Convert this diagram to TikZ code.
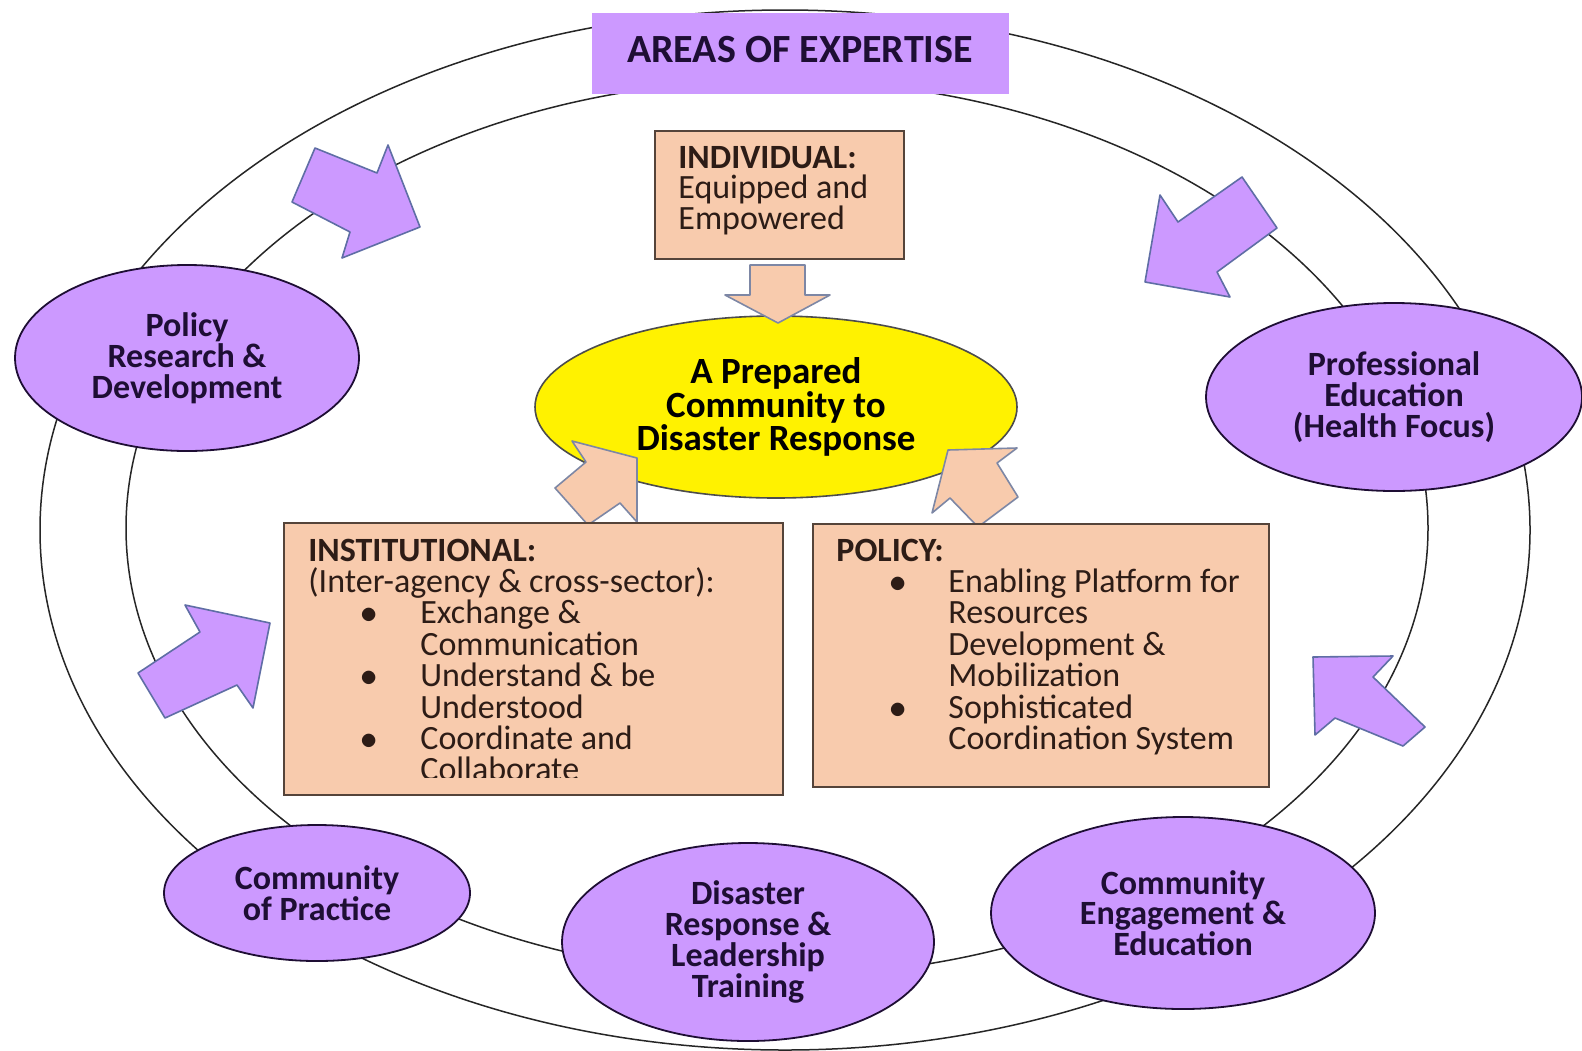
\documentclass[tikz,border=0pt]{standalone}
\usepackage{fontspec}
\setmainfont{Carlito}
\usetikzlibrary{shapes.geometric}
\definecolor{lav}{RGB}{204,153,255}
\definecolor{peach}{RGB}{248,203,173}
\definecolor{arrowedge}{RGB}{95,110,165}
\definecolor{peachedge}{RGB}{125,135,165}
\definecolor{ink}{RGB}{30,14,52}
\definecolor{boxink}{RGB}{45,28,22}
\definecolor{boxedge}{RGB}{85,68,58}
\begin{document}
\begin{tikzpicture}[x=0.5pt,y=-0.5pt,
  ring/.style={draw=black!85, line width=0.75pt},
  area/.style={ellipse, draw=ink, line width=0.9pt, fill=lav, inner sep=0pt,
     text=ink, align=center, font=\bfseries\fontsize{17}{15.4}\selectfont},
  goal/.style={ellipse, draw=black!70, line width=0.8pt, fill=yellow, inner sep=0pt,
     text=black, align=center, font=\bfseries\fontsize{18.5}{15.6}\selectfont},
  titlebox/.style={rectangle, fill=lav, inner sep=0pt},
  titletext/.style={inner sep=0pt, text=ink, font=\bfseries\fontsize{20}{24}\selectfont},
  pbox/.style={rectangle, draw=boxedge, line width=1.1pt, fill=peach, inner sep=0pt},
  btext/.style={anchor=base west, inner sep=0pt, text=boxink, font=\fontsize{17}{20}\selectfont},
  bhead/.style={anchor=base west, inner sep=0pt, text=boxink, font=\bfseries\fontsize{17}{20}\selectfont},
  bdot/.style={anchor=base, inner sep=0pt, text=boxink, font=\fontsize{17}{20}\selectfont},
  parrow/.style={draw=arrowedge, line width=0.8pt, fill=lav, line join=round},
  carrow/.style={draw=peachedge, line width=0.8pt, fill=peach, line join=round}
]
\fill[white] (0,0) rectangle (1582,1050);
\useasboundingbox (0,0) rectangle (1582,1050);

% rings
\draw[ring] (785,530) ellipse [x radius=372.5pt, y radius=260pt];
\draw[ring] (777,528) ellipse [x radius=325.5pt, y radius=224pt];

% title
\node[titlebox, minimum width=208.5pt, minimum height=40.5pt] (title) at (800.5,53.5) {};
\node[titletext] (titlet) at (800,50) {AREAS OF EXPERTISE};

% purple block arrows
\filldraw[parrow] (315,148) -- (377,173) -- (388,145) -- (420,227) -- (342,258) -- (350,232) -- (292,202) -- cycle;
\filldraw[parrow] (1242,177) -- (1277,228) -- (1217,272) -- (1230,297) -- (1145,282) -- (1160,195) -- (1178,222) -- cycle;
\filldraw[parrow] (270,623) -- (185,605) -- (200,632) -- (138,673) -- (165,718) -- (237,685) -- (253,708) -- cycle;
\filldraw[parrow] (1313,657) -- (1393,656) -- (1373,677) -- (1425,727) -- (1403,746) -- (1335,718) -- (1315,735) -- cycle;

% areas of expertise
\node[area, minimum width=172pt, minimum height=93pt] (prd) at (187,358) {Policy\\Research \&\\Development};
\node[area, minimum width=188pt, minimum height=94pt] (ped) at (1394,397) {Professional\\Education\\(Health Focus)};
\node[area, minimum width=153pt, minimum height=68pt] (cop) at (317,893) {Community\\of Practice};
\node[area, minimum width=186pt, minimum height=99pt] (drl) at (748,942) {Disaster\\Response \&\\Leadership\\Training};
\node[area, minimum width=192pt, minimum height=96pt] (cee) at (1183,913) {Community\\Engagement \&\\Education};

% goal
\node[goal, minimum width=241pt, minimum height=91pt] (goal) at (776,407) {A Prepared\\Community to\\Disaster Response};

% peach block arrows
\filldraw[carrow] (750,265) -- (805,265) -- (805,295) -- (830,295) -- (778,323) -- (725,295) -- (750,295) -- cycle;
\filldraw[carrow] (637,458) -- (572,441) -- (586,462) -- (555,488) -- (588,525) -- (620,503) -- (637,522) -- cycle;
\filldraw[carrow] (948,450) -- (1017,448) -- (997,463) -- (1018,497) -- (978,527) -- (950,498) -- (932,513) -- cycle;

% boxes
\node[pbox, minimum width=124.5pt, minimum height=64pt] (indiv) at (779.5,195) {};
\node[pbox, minimum width=249.5pt, minimum height=136pt] (inst) at (533.5,659) {};
\node[pbox, minimum width=228pt, minimum height=131.5pt] (pol) at (1041,655.5) {};

% individual text
\node[bhead] (i1) at (678,168) {INDIVIDUAL:};
\node[btext] (i2) at (678,198.8) {Equipped and};
\node[btext] (i3) at (678,229.6) {Empowered};

% institutional text
\begin{scope}
\clip (284,523) rectangle (783,777);
\node[bhead] (n1) at (308,561) {INSTITUTIONAL:};
\node[btext] (n2) at (308,592.4) {(Inter-agency \& cross-sector):};
\node[bdot] (nb1) at (369,623.8) {$\bullet$};
\node[btext] (n3) at (420,623.8) {Exchange \&};
\node[btext] (n4) at (420,655.2) {Communication};
\node[bdot] (nb2) at (369,686.6) {$\bullet$};
\node[btext] (n5) at (420,686.6) {Understand \& be};
\node[btext] (n6) at (420,718) {Understood};
\node[bdot] (nb3) at (369,749.4) {$\bullet$};
\node[btext] (n7) at (420,749.4) {Coordinate and};
\node[btext] (n8) at (420,780.8) {Collaborate};
\end{scope}

% policy text
\node[bhead] (p1) at (836,561) {POLICY:};
\node[bdot] (pb1) at (898,592.4) {$\bullet$};
\node[btext] (p2) at (948,592.4) {Enabling Platform for};
\node[btext] (p3) at (948,623.8) {Resources};
\node[btext] (p4) at (948,655.2) {Development \&};
\node[btext] (p5) at (948,686.6) {Mobilization};
\node[bdot] (pb2) at (898,718) {$\bullet$};
\node[btext] (p6) at (948,718) {Sophisticated};
\node[btext] (p7) at (948,749.4) {Coordination System};
\end{tikzpicture}
\end{document}
